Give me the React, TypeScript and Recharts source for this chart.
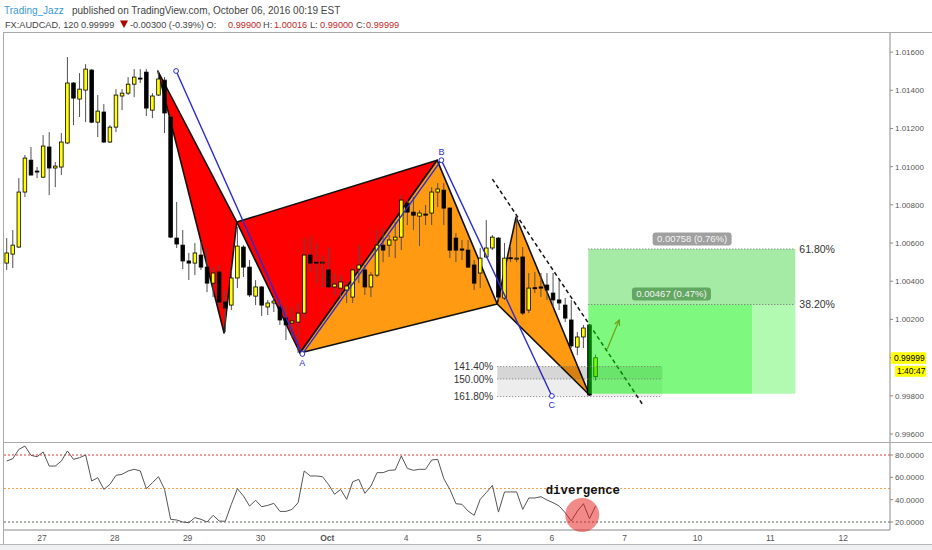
import React from 'react';
import {
    ComposedChart,
    Bar,
    Line,
    Scatter,
    XAxis,
    YAxis,
    ReferenceLine,
    ReferenceArea,
    ReferenceDot,
} from 'recharts';

// AUDCAD 120 min candles
const opens = [
    1.00495, 1.00542, 1.00579, 1.00867, 1.01034, 1.00977, 1.00945, 1.01103, 1.00993, 1.00998,
    1.01124, 1.01438, 1.01354, 1.01401, 1.01506, 1.01233, 1.01286, 1.01129, 1.01207, 1.01370,
    1.01385, 1.01432, 1.01464, 1.01495, 1.01296, 1.01375, 1.01453, 1.01260, 1.00626, 1.00589,
    1.00506, 1.00495, 1.00537, 1.00474, 1.00390, 1.00448, 1.00291, 1.00275, 1.00417, 1.00579,
    1.00474, 1.00322, 1.00370, 1.00265, 1.00286, 1.00265, 1.00207, 1.00181, 1.00186, 1.00233,
    1.00537, 1.00500, 1.00495, 1.00459, 1.00370, 1.00364, 1.00354, 1.00317, 1.00464, 1.00459,
    1.00370, 1.00432, 1.00589, 1.00589, 1.00616, 1.00631, 1.00809, 1.00762, 1.00741, 1.00752,
    1.00757, 1.00867, 1.00877, 1.00783, 1.00626, 1.00569, 1.00563, 1.00485, 1.00443, 1.00527,
    1.00574, 1.00626, 1.00312, 1.00523, 1.00519, 1.00527, 1.00249, 1.00366, 1.00370, 1.00380,
    1.00338, 1.00302, 1.00275, 1.00197, 1.00055, 1.00108, 1.00171, 0.99900,
];
const highs = [
    1.00626, 1.00668, 1.00940, 1.01061, 1.01103, 1.00998, 1.01165, 1.01181, 1.01024, 1.01176,
    1.01574, 1.01443, 1.01490, 1.01537, 1.01511, 1.01375, 1.01328, 1.01218, 1.01406, 1.01406,
    1.01469, 1.01511, 1.01511, 1.01511, 1.01385, 1.01501, 1.01469, 1.01270, 1.00815, 1.00668,
    1.00548, 1.00600, 1.00605, 1.00574, 1.00474, 1.00485, 1.00354, 1.00459, 1.00684, 1.00589,
    1.00511, 1.00406, 1.00375, 1.00302, 1.00317, 1.00302, 1.00275, 1.00265, 1.00286, 1.00626,
    1.00637, 1.00600, 1.00537, 1.00579, 1.00443, 1.00432, 1.00396, 1.00469, 1.00589, 1.00485,
    1.00448, 1.00668, 1.00678, 1.00642, 1.00710, 1.00851, 1.00825, 1.00841, 1.00773, 1.00799,
    1.00893, 1.00914, 1.00914, 1.00788, 1.00652, 1.00616, 1.00616, 1.00511, 1.00574, 1.00720,
    1.00642, 1.00631, 1.00600, 1.00579, 1.00736, 1.00579, 1.00443, 1.00448, 1.00443, 1.00443,
    1.00443, 1.00406, 1.00312, 1.00302, 1.00134, 1.00171, 1.00176, 1.00016,
];
const lows = [
    1.00459, 1.00469, 1.00574, 1.00841, 1.00956, 1.00940, 1.00940, 1.00851, 1.00893, 1.00956,
    1.01118, 1.01218, 1.01260, 1.01233, 1.01228, 1.01155, 1.01124, 1.01124, 1.01181, 1.01296,
    1.01375, 1.01364, 1.01438, 1.01265, 1.01254, 1.01370, 1.01176, 1.00626, 1.00574, 1.00464,
    1.00406, 1.00432, 1.00459, 1.00343, 1.00317, 1.00265, 1.00134, 1.00249, 1.00364, 1.00422,
    1.00317, 1.00275, 1.00218, 1.00223, 1.00239, 1.00171, 1.00092, 1.00103, 1.00024, 1.00207,
    1.00448, 1.00390, 1.00370, 1.00364, 1.00328, 1.00317, 1.00286, 1.00286, 1.00390, 1.00328,
    1.00317, 1.00422, 1.00500, 1.00527, 1.00521, 1.00563, 1.00694, 1.00668, 1.00584, 1.00694,
    1.00694, 1.00788, 1.00694, 1.00521, 1.00500, 1.00511, 1.00469, 1.00354, 1.00364, 1.00521,
    1.00563, 1.00302, 1.00302, 1.00500, 1.00500, 1.00223, 1.00233, 1.00338, 1.00317, 1.00302,
    1.00265, 1.00249, 1.00186, 1.00050, 1.00013, 1.00050, 0.99799, 0.99880,
];
const closes = [
    1.00548, 1.00589, 1.00867, 1.01045, 1.00956, 1.00972, 1.01108, 1.00993, 1.01003, 1.01129,
    1.01438, 1.01359, 1.01406, 1.01511, 1.01233, 1.01291, 1.01129, 1.01207, 1.01375, 1.01385,
    1.01432, 1.01469, 1.01459, 1.01307, 1.01370, 1.01459, 1.01281, 1.00631, 1.00595, 1.00506,
    1.00495, 1.00548, 1.00474, 1.00390, 1.00443, 1.00291, 1.00260, 1.00417, 1.00584, 1.00474,
    1.00328, 1.00370, 1.00275, 1.00286, 1.00296, 1.00197, 1.00171, 1.00192, 1.00233, 1.00537,
    1.00495, 1.00495, 1.00500, 1.00370, 1.00385, 1.00396, 1.00375, 1.00459, 1.00485, 1.00370,
    1.00432, 1.00589, 1.00563, 1.00616, 1.00631, 1.00825, 1.00762, 1.00746, 1.00757, 1.00746,
    1.00867, 1.00883, 1.00783, 1.00563, 1.00563, 1.00563, 1.00474, 1.00390, 1.00521, 1.00574,
    1.00631, 1.00317, 1.00521, 1.00519, 1.00521, 1.00233, 1.00364, 1.00362, 1.00364, 1.00354,
    1.00302, 1.00286, 1.00207, 1.00061, 1.00108, 1.00155, 0.99804, 0.99999,
];
const rsiValues = [
    74.6, 76.7, 85.1, 88.0, 79.7, 78.5, 82.7, 70.1, 70.1, 74.6,
    83.6, 76.1, 77.6, 80.0, 56.7, 59.7, 49.2, 53.7, 61.8, 62.7,
    65.7, 67.2, 65.7, 49.8, 55.2, 60.6, 49.2, 22.4, 21.8, 20.0,
    19.4, 23.9, 22.4, 20.0, 26.0, 20.9, 20.6, 35.8, 49.8, 43.3,
    34.3, 39.4, 33.7, 34.9, 36.7, 29.5, 29.5, 31.3, 37.3, 65.7,
    61.2, 61.2, 60.6, 53.7, 44.8, 49.2, 40.3, 56.1, 58.2, 45.7,
    52.2, 64.2, 64.2, 66.3, 66.6, 79.1, 68.0, 66.3, 67.2, 67.2,
    75.5, 76.1, 58.8, 49.2, 36.4, 35.8, 29.8, 26.0, 40.3, 46.3,
    52.8, 28.9, 46.9, 46.9, 46.9, 31.3, 41.5, 41.5, 42.7, 39.7,
    37.3, 34.3, 28.3, 20.9, 29.8, 36.4, 23.0, 34.3,
];

// day labels on the time axis (bar index where each day starts)
const dayTicks = [5.8, 17.8, 29.8, 41.8, 52.8, 65.8, 77.8, 89.8, 101.8, 113.8, 125.8, 137.8];
const dayLabels = ['27', '28', '29', '30', 'Oct', '4', '5', '6', '7', '10', '11', '12'];
const priceTicks = [0.996, 0.998, 1.002, 1.004, 1.006, 1.008, 1.01, 1.012, 1.014, 1.016];
const rsiTicks = [20, 40, 60, 80];

// harmonic pattern legs (bar index, price)
const redLeg1 = [{ i: 24.9, p: 1.01501 }, { i: 35.8, p: 1.00129 }, { i: 37.9, p: 1.0071 }];
const redLeg2 = [{ i: 37.9, p: 1.0071 }, { i: 48.3, p: 1.00024 }, { i: 70.9, p: 1.01034 }];
const orangeLeg1 = [{ i: 48.3, p: 1.00024 }, { i: 70.9, p: 1.01034 }, { i: 80.8, p: 1.00281 }];
const orangeLeg2 = [{ i: 80.8, p: 1.00281 }, { i: 83.9, p: 1.00736 }, { i: 96.0, p: 0.99804 }];
const abcLine = [{ i: 27.9, p: 1.01501 }, { i: 48.7, p: 1.00019 }, { i: 71.6, p: 1.01034 }, { i: 89.8, p: 0.99799 }];
const abcLabels = ['', 'A', 'B', 'C'];
const trendLine = [{ i: 80.0, p: 1.00935 }, { i: 104.8, p: 0.99752 }];
const arrowPts = [{ i: 98.9, p: 1.00044 }, { i: 100.9, p: 1.00197 }];

// fib extension box and long position
const extRange = [80.8, 108.0];
const extLevels = [0.99953, 0.99888, 0.99796];
const extLabels = ['141.40%', '150.00%', '161.80%'];
const longRange = [95.8, 122.8, 129.9];
const longEntry = 0.99811;
const longLevels = [1.00278, 1.00569];
const longLabels = ['38.20%', '61.80%'];
const longTags = [
    { i: 109.5, p: 1.00333, text: '0.00467 (0.47%)', bg: '#62a862' },
    { i: 112.9, p: 1.00621, text: '0.00758 (0.76%)', bg: '#a0a0a0' },
];
const lastPrice = 0.99999;
const countdown = '1:40:47';
const divergenceAt = { i: 94.8, v: 26.3 };
const divergenceText = { i: 94.9, v: 49.1 };

// header pieces: text, left edge, colour
const headerLine1 = [
    { t: 'Trading_Jazz', x: 4, c: '#3a9ad9' },
    { t: 'published on TradingView.com, October 06, 2016 00:19 EST', x: 72, c: '#444' },
];
const headerLine2 = [
    { t: 'FX:AUDCAD, 120 0.99999', x: 5, c: '#444' },
    { t: '-0.00300 (-0.39%) O:', x: 130, c: '#444' },
    { t: '0.99900', x: 228, c: '#c62828' },
    { t: 'H:', x: 263, c: '#444' },
    { t: '1.00016', x: 274, c: '#c62828' },
    { t: 'L:', x: 310, c: '#444' },
    { t: '0.99000', x: 320, c: '#c62828' },
    { t: 'C:', x: 356, c: '#444' },
    { t: '0.99999', x: 366, c: '#c62828' },
];

const candles = opens.map((o, i) => ({
    i,
    o,
    h: highs[i],
    l: lows[i],
    c: closes[i],
    rsi: rsiValues[i],
}));

const X_DOMAIN: [number, number] = [-0.45, 145.5];
const FONT = '"Liberation Sans", Arial, sans-serif';

const Candle = (props: any) => {
    const { x, y, width, height, payload } = props;
    if (!payload) return <g />;
    const cx = x + width / 2;
    const top = Math.min(y, y + height);
    const span = Math.abs(height);
    const range = payload.h - payload.l || 1;
    const toY = (v: number) => top + ((payload.h - v) / range) * span;
    const bTop = toY(Math.max(payload.o, payload.c));
    const bBot = toY(Math.min(payload.o, payload.c));
    const up = payload.c >= payload.o;
    return (
        <g>
            <line x1={cx} x2={cx} y1={top} y2={top + span} stroke="#505050" strokeWidth={1} />
            <rect
                x={cx - 1.8}
                y={bTop}
                width={3.6}
                height={Math.max(bBot - bTop, 1)}
                fill={up ? '#ffff00' : '#000000'}
                stroke="#000"
                strokeWidth={0.8}
            />
        </g>
    );
};

const noDot = () => <g />;

const polygonLine = (fill: string) => (props: any) => {
    const pts = (props.points || []).map((pt: any) => `${pt.x},${pt.y}`).join(' ');
    return <polygon points={pts} fill={fill} stroke="#111" strokeWidth={1.6} strokeLinejoin="round" />;
};

const arrowLine = (props: any) => {
    const pts = props.points || [];
    if (pts.length < 2) return <g />;
    const [a, b] = pts;
    const ang = Math.atan2(b.y - a.y, b.x - a.x);
    const w1 = { x: b.x - 6 * Math.cos(ang - 0.45), y: b.y - 6 * Math.sin(ang - 0.45) };
    const w2 = { x: b.x - 6 * Math.cos(ang + 0.45), y: b.y - 6 * Math.sin(ang + 0.45) };
    return (
        <g stroke="#d9502a" strokeWidth={1.2} fill="none">
            <line x1={a.x} y1={a.y} x2={b.x} y2={b.y} />
            <polyline points={`${w1.x},${w1.y} ${b.x},${b.y} ${w2.x},${w2.y}`} />
        </g>
    );
};

const tagShape = (text: string, bg: string) => (props: any) => {
    const { cx, cy } = props;
    return (
        <g>
            <rect x={cx - 39.5} y={cy - 6.5} width={79} height={13} rx={3} fill={bg} />
            <text x={cx} y={cy} dy="0.35em" textAnchor="middle" fontSize={9.5} fill="#f4f4f4" fontFamily={FONT}>
                {text}
            </text>
        </g>
    );
};

const priceTagShape = (props: any) => {
    const { cx, cy } = props;
    return (
        <g fontFamily={FONT} fontSize={8.5} fill="#000">
            <line x1={cx} x2={cx + 3} y1={cy} y2={cy} stroke="#777" />
            <rect x={cx + 1} y={cy - 5.5} width={35} height={11.5} fill="#ffff00" />
            <text x={cx + 4} y={cy} dy="0.35em">{lastPrice.toFixed(5)}</text>
            <rect x={cx + 5} y={cy + 8} width={31} height={11} fill="#ffff00" />
            <text x={cx + 7} y={cy + 13.5} dy="0.35em">{countdown}</text>
        </g>
    );
};

const divergenceShape = (props: any) => (
    <text
        x={props.cx}
        y={props.cy}
        dy="0.35em"
        textAnchor="middle"
        fontFamily='"Liberation Mono", "Courier New", monospace'
        fontWeight="bold"
        fontSize={12.4}
        fill="#111"
    >
        divergence
    </text>
);

const DayTick = (props: any) => {
    const { x, y, payload } = props;
    const idx = dayTicks.findIndex(t => Math.abs(t - payload.value) < 0.01);
    const label = idx >= 0 ? dayLabels[idx] : '';
    return (
        <text
            x={x}
            y={y}
            dy="0.71em"
            textAnchor="middle"
            fontSize={8.5}
            fill="#555"
            fontFamily={FONT}
            fontWeight={label === 'Oct' ? 'bold' : 'normal'}
        >
            {label}
        </text>
    );
};

const Header = () => (
    <svg width={932} height={32} style={{ position: 'absolute', left: 0, top: 0 }}>
        <g fontFamily={FONT}>
            {headerLine1.map(h => (
                <text key={h.t} x={h.x} y={13.5} fill={h.c} fontSize={10}>{h.t}</text>
            ))}
            {headerLine2.map(h => (
                <text key={h.t + h.x} x={h.x} y={27.5} fill={h.c} fontSize={9.2}>{h.t}</text>
            ))}
            <polygon points="120,20.5 128,20.5 124,28" fill="#b00000" />
        </g>
    </svg>
);

const App: React.FC = () => {
    return (
        <div
            style={{
                position: 'absolute',
                left: 0,
                top: 0,
                width: 932,
                height: 550,
                background: '#fff',
                overflow: 'hidden',
                fontFamily: FONT,
            }}
        >
            <Header />
            <div style={{ position: 'absolute', left: 3, top: 32, width: 929, height: 1, background: '#a8a8a8' }} />
            <div style={{ position: 'absolute', left: 3, top: 32, width: 1, height: 512, background: '#a8a8a8' }} />
            <div style={{ position: 'absolute', left: 3, top: 442, width: 929, height: 1, background: '#a8a8a8' }} />
            <div style={{ position: 'absolute', left: 0, top: 544, width: 932, height: 6, background: '#eef0f2', borderTop: '1px solid #b8b8b8' }} />

            <div style={{ position: 'absolute', left: 0, top: 0 }}>
                <ComposedChart width={932} height={442} data={candles} margin={{ top: 33, right: 0, bottom: 0, left: 4 }}>
                    <XAxis type="number" dataKey="i" domain={X_DOMAIN} allowDataOverflow hide />
                    <YAxis
                        orientation="right"
                        domain={[0.99558, 1.017]}
                        allowDataOverflow
                        ticks={priceTicks}
                        interval={0}
                        tickFormatter={(v: number) => v.toFixed(5)}
                        width={42}
                        tick={{ fontSize: 8, fill: '#555' }}
                        axisLine={{ stroke: '#8a8a8a' }}
                        tickLine={{ stroke: '#8a8a8a' }}
                        tickSize={3}
                        tickMargin={2}
                    />
                    <Scatter data={redLeg1} dataKey="p" shape={noDot} line={polygonLine('#ff0000')} isAnimationActive={false} zIndex={250} />
                    <Scatter data={redLeg2} dataKey="p" shape={noDot} line={polygonLine('#ff0000')} isAnimationActive={false} zIndex={250} />
                    <Scatter data={orangeLeg1} dataKey="p" shape={noDot} line={polygonLine('#ff9a12')} isAnimationActive={false} zIndex={250} />
                    <Scatter data={orangeLeg2} dataKey="p" shape={noDot} line={polygonLine('#ff9a12')} isAnimationActive={false} zIndex={250} />
                    <Bar
                        dataKey={(d: any) => [d.l, d.h]}
                        barSize={5}
                        shape={<Candle />}
                        isAnimationActive={false}
                        zIndex={300}
                    />
                    <Scatter
                        data={abcLine}
                        dataKey="p"
                        shape={noDot}
                        line={{ stroke: '#2b2bd6', strokeWidth: 1.4 }}
                        isAnimationActive={false}
                        zIndex={350}
                    />
                    <Scatter data={arrowPts} dataKey="p" shape={noDot} line={arrowLine} isAnimationActive={false} zIndex={350} />
                    <ReferenceLine
                        segment={[{ x: trendLine[0].i, y: trendLine[0].p }, { x: trendLine[1].i, y: trendLine[1].p }]}
                        stroke="#111"
                        strokeWidth={1.5}
                        strokeDasharray="4 3"
                        ifOverflow="visible"
                        zIndex={360}
                    />
                    <ReferenceArea x1={extRange[0]} x2={extRange[1]} y1={extLevels[1]} y2={extLevels[0]} fill="#000" fillOpacity={0.16} stroke="none" ifOverflow="visible" zIndex={370} />
                    <ReferenceArea x1={extRange[0]} x2={extRange[1]} y1={extLevels[2]} y2={extLevels[1]} fill="#000" fillOpacity={0.07} stroke="none" ifOverflow="visible" zIndex={370} />
                    <ReferenceArea x1={longRange[0]} x2={longRange[2]} y1={longLevels[0]} y2={longLevels[1]} fill="#05c805" fillOpacity={0.36} stroke="none" ifOverflow="visible" zIndex={372} />
                    <ReferenceArea x1={longRange[0]} x2={longRange[1]} y1={longEntry} y2={longLevels[0]} fill="#00f100" fillOpacity={0.5} stroke="none" ifOverflow="visible" zIndex={372} />
                    <ReferenceArea x1={longRange[1]} x2={longRange[2]} y1={longEntry} y2={longLevels[0]} fill="#00ee00" fillOpacity={0.3} stroke="none" ifOverflow="visible" zIndex={372} />
                    {extLevels.map((lv, k) => (
                        <ReferenceLine
                            key={`ext-${k}`}
                            segment={[{ x: extRange[0], y: lv }, { x: extRange[1], y: lv }]}
                            stroke="#777"
                            strokeDasharray="1 2"
                            ifOverflow="visible"
                            zIndex={380}
                            label={{ value: extLabels[k], position: 'left', offset: 4, fill: '#333', fontSize: 10 }}
                        />
                    ))}
                    {longLevels.map((lv, k) => (
                        <ReferenceLine
                            key={`long-${k}`}
                            segment={[{ x: longRange[0], y: lv }, { x: longRange[2], y: lv }]}
                            stroke="#666"
                            strokeDasharray="1 2"
                            ifOverflow="visible"
                            zIndex={380}
                            label={{ value: longLabels[k], position: 'right', offset: 4, fill: '#333', fontSize: 10.5 }}
                        />
                    ))}
                    {abcLine.map((pt, k) => (
                        <ReferenceDot
                            key={`abc-${k}`}
                            x={pt.i}
                            y={pt.p}
                            r={2.4}
                            fill="#fff"
                            stroke="#2b2bd6"
                            strokeWidth={1}
                            ifOverflow="visible"
                            zIndex={390}
                            label={abcLabels[k] ? { value: abcLabels[k], position: k === 2 ? 'top' : 'bottom', fill: '#2b2bd6', fontSize: 9, offset: 3 } : undefined}
                        />
                    ))}
                    {longTags.map((t, k) => (
                        <ReferenceDot key={`tag-${k}`} x={t.i} y={t.p} r={1} shape={tagShape(t.text, t.bg)} ifOverflow="visible" zIndex={390} />
                    ))}
                    <ReferenceDot x={X_DOMAIN[1]} y={lastPrice} r={1} shape={priceTagShape} ifOverflow="visible" zIndex={2100} />
                </ComposedChart>
            </div>

            <div style={{ position: 'absolute', left: 0, top: 443 }}>
                <ComposedChart width={932} height={107} data={candles} margin={{ top: 0, right: 0, bottom: 0, left: 4 }}>
                    <XAxis
                        type="number"
                        dataKey="i"
                        domain={X_DOMAIN}
                        allowDataOverflow
                        ticks={dayTicks}
                        interval={0}
                        tick={(p: any) => <DayTick {...p} />}
                        tickLine={false}
                        axisLine={{ stroke: '#8a8a8a' }}
                        height={20}
                        tickSize={4}
                        tickMargin={1}
                    />
                    <YAxis
                        orientation="right"
                        domain={[12.84, 90.75]}
                        allowDataOverflow
                        ticks={rsiTicks}
                        interval={0}
                        tickFormatter={(v: number) => v.toFixed(4)}
                        width={42}
                        tick={{ fontSize: 8, fill: '#555' }}
                        axisLine={{ stroke: '#8a8a8a' }}
                        tickLine={{ stroke: '#8a8a8a' }}
                        tickSize={3}
                        tickMargin={2}
                    />
                    <ReferenceLine y={80} stroke="#e23b3b" strokeDasharray="2 2" />
                    <ReferenceLine y={50} stroke="#f0a050" strokeDasharray="2 2" />
                    <ReferenceLine y={20} stroke="#5b6b5b" strokeDasharray="2 2" />
                    <ReferenceDot x={divergenceAt.i} y={divergenceAt.v} r={17} fill="#e61e1e" fillOpacity={0.52} stroke="none" />
                    <Line dataKey="rsi" stroke="#555" strokeWidth={1} dot={false} isAnimationActive={false} zIndex={500} />
                    <ReferenceDot x={divergenceText.i} y={divergenceText.v} r={1} shape={divergenceShape} ifOverflow="visible" />
                </ComposedChart>
            </div>
        </div>
    );
};

export default App;
